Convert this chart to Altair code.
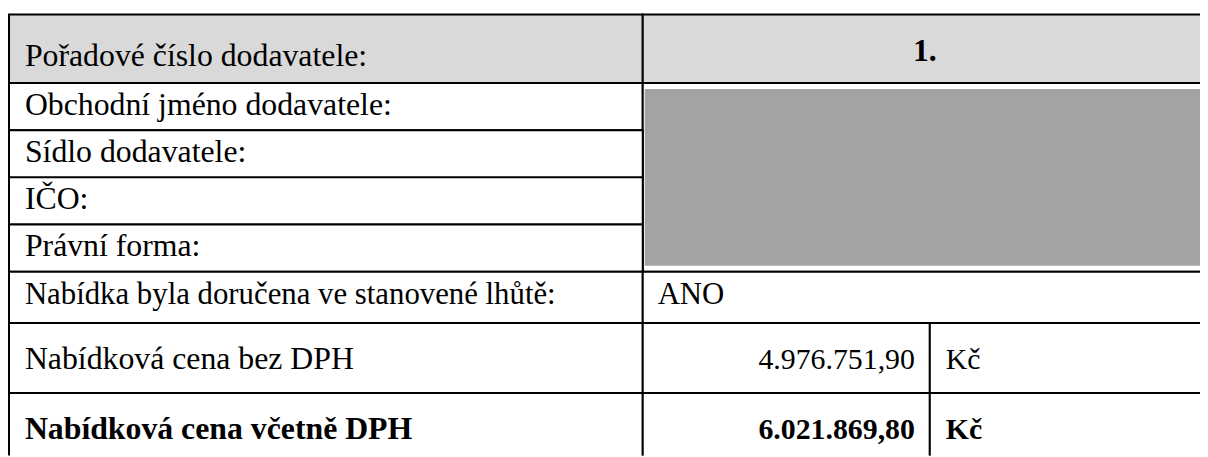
import altair as alt
import pandas as pd

# ---- data (table content) ----
labels = [
    "Pořadové číslo dodavatele:",
    "Obchodní jméno dodavatele:",
    "Sídlo dodavatele:",
    "IČO:",
    "Právní forma:",
    "Nabídka byla doručena ve stanovené lhůtě:",
    "Nabídková cena bez DPH",
    "Nabídková cena včetně DPH",
]
values = ["1.", "", "", "", "", "ANO", "4.976.751,90", "6.021.869,80"]
units = ["", "", "", "", "", "", "Kč", "Kč"]
bold_rows = [False, False, False, False, False, False, False, True]

# ---- layout (pixels in the 1208x457 picture) ----
row_edges = [13, 82, 129.5, 177, 224.5, 272, 323.5, 394, 480]
baselines = [65, 114, 161.5, 209, 256.5, 304, 370, 440]
label_sizes = [32, 32, 32, 32, 32, 31, 32, 32]
col_left, col_mid, col_unit, col_right = 9, 647, 936, 1215
FONT = "Liberation Serif"
VAL_FS = 30
GRAY = "#d9d9d9"

cells = []
texts = []
n = len(labels)
for i in range(n):
    top, bot = row_edges[i], row_edges[i + 1]
    fill = GRAY if i == 0 else "white"
    cells.append(dict(x=col_left, x2=col_mid, y=top, y2=bot, fill=fill))
    base = baselines[i]
    w = "bold" if bold_rows[i] else "normal"
    texts.append(dict(x=25, y=base, t=labels[i], align="left", w=w, s=label_sizes[i]))
    if i == 0:
        cells.append(dict(x=col_mid, x2=col_right, y=top, y2=bot, fill=GRAY))
        texts.append(dict(x=(col_mid + col_right) / 2, y=60, t=values[i], align="center", w="bold", s=32))
    elif i == 1:
        cells.append(dict(x=col_mid, x2=col_right, y=row_edges[1], y2=row_edges[5], fill="white"))
    elif i == 5:
        cells.append(dict(x=col_mid, x2=col_right, y=top, y2=bot, fill="white"))
        texts.append(dict(x=col_mid + 15, y=base, t=values[i], align="left", w=w, s=31))
    elif i >= 6:
        cells.append(dict(x=col_mid, x2=col_unit, y=top, y2=bot, fill="white"))
        cells.append(dict(x=col_unit, x2=col_right, y=top, y2=bot, fill="white"))
        texts.append(dict(x=col_unit - 15, y=base, t=values[i], align="right", w=w, s=VAL_FS))
        texts.append(dict(x=col_unit + 16, y=base, t=units[i], align="left", w=w, s=VAL_FS))

cells_df = pd.DataFrame(cells)
texts_df = pd.DataFrame(texts)
redact_df = pd.DataFrame([dict(x=col_mid + 2, x2=col_right, y=88, y2=266)])

xs = alt.Scale(domain=[8, 1208])
ys = alt.Scale(domain=[8, 457], reverse=True)

rects = alt.Chart(cells_df).mark_rect(stroke="black", strokeWidth=2, clip=True).encode(
    x=alt.X("x:Q", scale=xs, axis=None),
    x2="x2:Q",
    y=alt.Y("y:Q", scale=ys, axis=None),
    y2="y2:Q",
    fill=alt.Fill("fill:N", scale=None),
)

redact = alt.Chart(redact_df).mark_rect(color="#a3a3a3", clip=True).encode(
    x=alt.X("x:Q", scale=xs, axis=None),
    x2="x2:Q",
    y=alt.Y("y:Q", scale=ys, axis=None),
    y2="y2:Q",
)

layers = [rects, redact]
for align in ["left", "center", "right"]:
    for w in ["normal", "bold"]:
        sub = texts_df[(texts_df["align"] == align) & (texts_df["w"] == w)]
        if len(sub) == 0:
            continue
        layers.append(
            alt.Chart(sub).mark_text(
                align=align, baseline="alphabetic", font=FONT,
                fontWeight=w, color="black", clip=True,
            ).encode(
                x=alt.X("x:Q", scale=xs, axis=None),
                y=alt.Y("y:Q", scale=ys, axis=None),
                text="t:N",
                size=alt.Size("s:Q", scale=None, legend=None),
            )
        )

chart = alt.layer(*layers).properties(
    width=1200, height=449, padding=0, autosize=alt.AutoSizeParams(type="none"),
    background="white",
).configure_view(stroke=None)

chart.save("out.html", embed_options={"renderer": "svg", "actions": False})
